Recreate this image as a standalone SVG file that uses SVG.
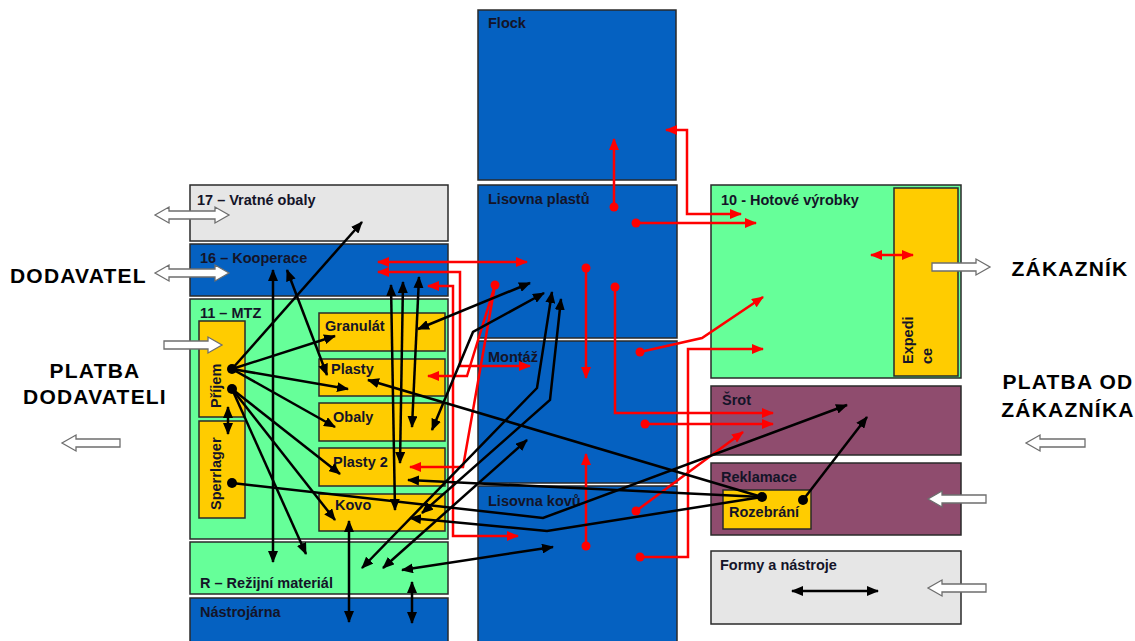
<svg xmlns="http://www.w3.org/2000/svg" width="1135" height="641" viewBox="0 0 1135 641">
<style>
.box{stroke:#2a2a2a;stroke-width:1.5}
.blue{fill:#0561c1}.green{fill:#66ff99}.yel{fill:#ffcc00}.gray{fill:#e6e6e6}.plum{fill:#8f4c6e}
.lbl{font-family:"Liberation Sans",Arial,sans-serif;font-weight:bold;font-size:14.5px;fill:#141428}
.big{font-family:"Liberation Sans",Arial,sans-serif;font-weight:bold;font-size:21px;fill:#000;letter-spacing:1.2px}
.hol{fill:#fff;stroke:#6e6e6e;stroke-width:1.3}
.r{fill:none;stroke:#ff0000;stroke-width:2.5}
.k{fill:none;stroke:#000;stroke-width:2.5}
.re{marker-end:url(#ar)}.rb{marker-start:url(#ar);marker-end:url(#ar)}
.ke{marker-end:url(#ak)}.kb{marker-start:url(#ak);marker-end:url(#ak)}
.rd{fill:#ff0000}.kd{fill:#000}
</style>
<defs>
<marker id="ar" markerUnits="userSpaceOnUse" markerWidth="12" markerHeight="10" refX="11" refY="5" orient="auto-start-reverse"><path d="M0,0 L12,5 L0,10 z" fill="#ff0000"/></marker>
<marker id="ak" markerUnits="userSpaceOnUse" markerWidth="12" markerHeight="10" refX="11" refY="5" orient="auto-start-reverse"><path d="M0,0 L12,5 L0,10 z" fill="#000"/></marker>
</defs>

<g id="n17"><rect class="box gray" x="190" y="185" width="258" height="56"/><text class="lbl" x="197" y="205">17 – Vratné obaly</text></g>
<g id="n16"><rect class="box blue" x="190" y="244" width="258" height="52"/><text class="lbl" x="200" y="263">16 – Kooperace</text></g>
<g id="n11"><rect class="box green" x="190" y="299" width="258" height="240"/><text class="lbl" x="200" y="318">11 – MTZ</text></g>
<g id="prijem"><rect class="box yel" x="199" y="321" width="46" height="96"/><text class="lbl" transform="translate(221,408) rotate(-90)">Příjem</text></g>
<g id="sperrlager"><rect class="box yel" x="199" y="421" width="46" height="97"/><text class="lbl" transform="translate(221,510) rotate(-90)">Sperrlager</text></g>
<g id="granulat"><rect class="box yel" x="319" y="313" width="126" height="38"/><text class="lbl" x="325" y="331">Granulát</text></g>
<g id="plasty"><rect class="box yel" x="319" y="359" width="126" height="37"/><text class="lbl" x="331" y="374">Plasty</text></g>
<g id="obaly"><rect class="box yel" x="319" y="403" width="126" height="38"/><text class="lbl" x="333" y="422">Obaly</text></g>
<g id="plasty2"><rect class="box yel" x="319" y="448" width="126" height="38"/><text class="lbl" x="333" y="467">Plasty 2</text></g>
<g id="kovo"><rect class="box yel" x="319" y="494" width="126" height="37"/><text class="lbl" x="335" y="510">Kovo</text></g>
<g id="rezijni"><rect class="box green" x="190" y="542" width="258" height="52"/><text class="lbl" x="200" y="588">R – Režijní materiál</text></g>
<g id="nastrojarna"><rect class="box blue" x="190" y="598" width="258" height="50"/><text class="lbl" x="200" y="617">Nástrojárna</text></g>

<g id="flock"><rect class="box blue" x="478" y="10" width="198" height="170"/><text class="lbl" x="488" y="28">Flock</text></g>
<g id="lisplast"><rect class="box blue" x="478" y="185" width="199" height="153"/><text class="lbl" x="488" y="204">Lisovna plastů</text></g>
<g id="montaz"><rect class="box blue" x="478" y="341" width="199" height="142"/><text class="lbl" x="488" y="362">Montáž</text></g>
<g id="liskov"><rect class="box blue" x="478" y="486" width="199" height="162"/><text class="lbl" x="488" y="506">Lisovna kovů</text></g>

<g id="n10"><rect class="box green" x="711" y="185" width="250" height="193"/><text class="lbl" x="721" y="205">10 - Hotové výrobky</text></g>
<g id="expedice"><rect class="box yel" x="894" y="188" width="64" height="188"/><text class="lbl" transform="translate(913,364) rotate(-90)">Expedi<tspan x="0" dy="19">ce</tspan></text></g>
<g id="srot"><rect class="box plum" x="711" y="386" width="250" height="69"/><text class="lbl" x="722" y="405">Šrot</text></g>
<g id="reklamace"><rect class="box plum" x="711" y="463" width="250" height="72"/><text class="lbl" x="721" y="482">Reklamace</text></g>
<g id="rozebrani"><rect class="box yel" x="723" y="490" width="88" height="39"/><text class="lbl" x="729" y="517">Rozebrání</text></g>
<g id="formy"><rect class="box gray" x="711" y="551" width="250" height="73"/><text class="lbl" x="720" y="570">Formy a nástroje</text></g>

<g id="dodavatel"><text class="big" x="10" y="283">DODAVATEL</text></g>
<g id="platba-dod"><text class="big" x="95" y="378" text-anchor="middle">PLATBA</text><text class="big" x="95" y="404" text-anchor="middle">DODAVATELI</text></g>
<g id="zakaznik"><text class="big" x="1070" y="276" text-anchor="middle">ZÁKAZNÍK</text></g>
<g id="platba-zak"><text class="big" x="1068" y="389" text-anchor="middle">PLATBA OD</text><text class="big" x="1068" y="417" text-anchor="middle">ZÁKAZNÍKA</text></g>

<g id="hollow-arrows">
<polygon class="hol" points="155,215 169,207 169,211 215,211 215,207 229,215 215,223 215,219 169,219 169,223"/>
<polygon class="hol" points="155,273 169,265 169,269 215,269 215,265 229,273 215,281 215,277 169,277 169,281"/>
<polygon class="hol" points="164,341 208,341 208,337 222,345 208,353 208,349 164,349"/>
<polygon class="hol" points="120,439 76,439 76,435 62,443 76,451 76,447 120,447"/>
<polygon class="hol" points="932,263 976,263 976,259 990,267 976,275 976,271 932,271"/>
<polygon class="hol" points="1085,439 1040,439 1040,435 1026,443 1040,451 1040,447 1085,447"/>
<polygon class="hol" points="986,495 942,495 942,491 928,499 942,507 942,503 986,503"/>
<polygon class="hol" points="986,584 942,584 942,580 928,588 942,596 942,592 986,592"/>
</g>

<g id="connectors">
<path class="r re" d="M614,207 L614,139"/>
<path class="r re" d="M636,223 L756,223"/>
<path class="r rb" d="M666,130 L687,130 L687,214 L741,214"/>
<path class="r rb" d="M871,255 L913,255"/>
<path class="r re" d="M640,352 L702,338 L763,297"/>
<path class="r re" d="M640,557 L688,557 L688,349 L763,349"/>
<path class="r re" d="M615,287 L615,413 L773,413"/>
<path class="r re" d="M645,424 L773,424"/>
<path class="r re" d="M636,511 L743,432"/>
<path class="r re" d="M586,268 L586,378"/>
<path class="r re" d="M586,546 L586,454"/>
<path class="r rb" d="M378,262 L527,262"/>
<path class="r rb" d="M378,272 L460,272 L460,366 L530,366"/>
<path class="r rb" d="M428,286 L453,286 L453,536 L518,536"/>
<path class="r re" d="M495,285 L467,376 L428,376"/>
<path class="r re" d="M495,285 L463,467 L410,467"/>
<circle class="rd" cx="614" cy="207" r="4.5"/><circle class="rd" cx="636" cy="223" r="4.5"/>
<circle class="rd" cx="640" cy="352" r="4.5"/><circle class="rd" cx="640" cy="557" r="4.5"/>
<circle class="rd" cx="615" cy="287" r="4.5"/><circle class="rd" cx="645" cy="424" r="4.5"/>
<circle class="rd" cx="636" cy="511" r="4.5"/><circle class="rd" cx="586" cy="268" r="4.5"/>
<circle class="rd" cx="586" cy="546" r="4.5"/><circle class="rd" cx="495" cy="285" r="4.5"/>

<path class="k ke" d="M232,369 L362,222"/>
<path class="k ke" d="M232,369 L335,336"/>
<path class="k ke" d="M232,369 L348,389"/>
<path class="k ke" d="M232,369 L335,427"/>
<path class="k ke" d="M232,389 L340,474"/>
<path class="k ke" d="M232,389 L335,520"/>
<path class="k ke" d="M232,389 L306,554"/>
<path class="k kb" d="M228,407 L228,434"/>
<path class="k kb" d="M273,270 L273,562"/>
<path class="k kb" d="M287,270 L327,375"/>
<path class="k kb" d="M391,285 L395,510"/>
<path class="k kb" d="M403,282 L400,463"/>
<path class="k kb" d="M419,277 L412,427"/>
<path class="k kb" d="M530,283 L418,329"/>
<path class="k kb" d="M544,293 L473,332 L432,430"/>
<path class="k kb" d="M552,292 L537,388 L362,568"/>
<path class="k kb" d="M561,299 L550,400 L422,513"/>
<path class="k kb" d="M527,440 L383,568"/>
<path class="k ke" d="M762,497 L368,380"/>
<path class="k ke" d="M762,497 L408,480"/>
<path class="k ke" d="M762,497 L547,531 L410,518"/>
<path class="k ke" d="M232,483 L543,518 L847,405"/>
<path class="k ke" d="M803,500 L867,417"/>
<path class="k kb" d="M553,547 L402,570"/>
<path class="k kb" d="M349,521 L349,622"/>
<path class="k kb" d="M412,582 L412,623"/>
<path class="k kb" d="M792,591 L878,591"/>
<circle class="kd" cx="232" cy="369" r="5"/><circle class="kd" cx="232" cy="389" r="5"/>
<circle class="kd" cx="232" cy="483" r="5"/><circle class="kd" cx="762" cy="497" r="5"/>
<circle class="kd" cx="803" cy="500" r="5"/>
</g>
</svg>
